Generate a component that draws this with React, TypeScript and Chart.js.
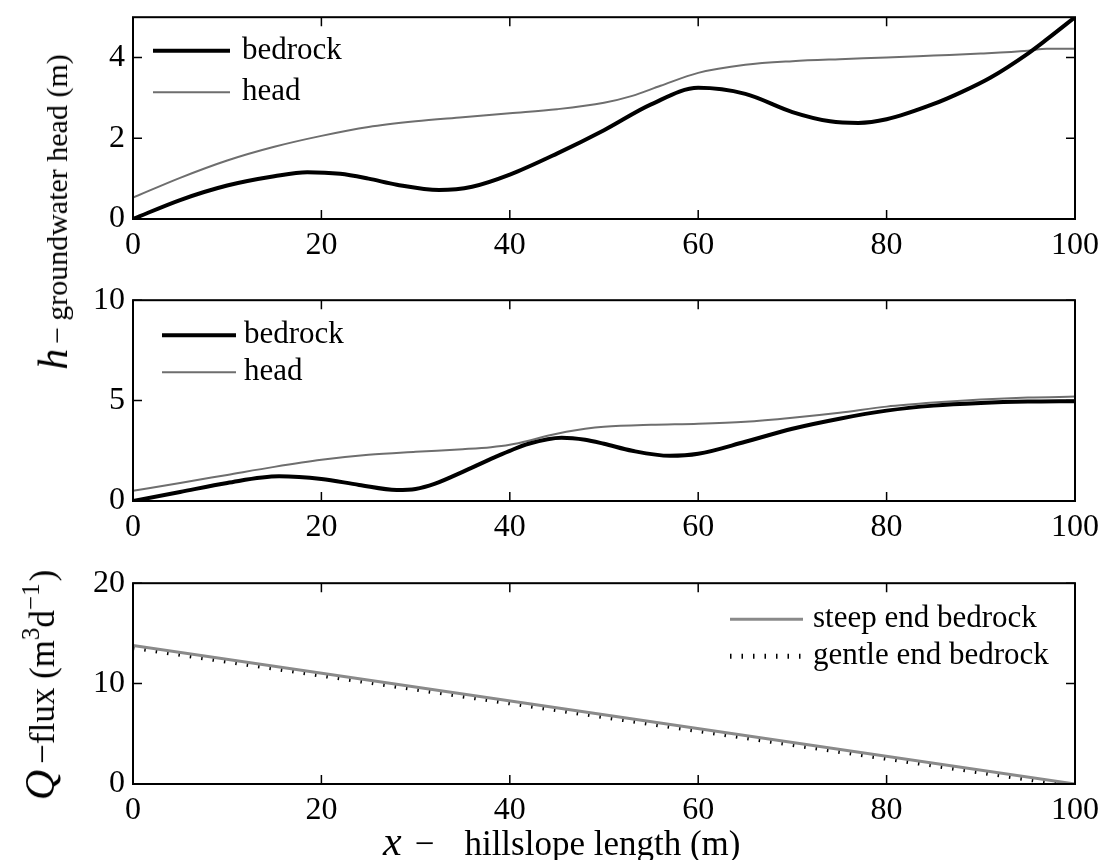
import React, { useEffect, useRef } from 'react';
import { Chart, registerables } from 'chart.js';

Chart.register(...registerables);

const SERIF = '"Liberation Serif", "Times New Roman", Times, serif';

// ---------- data ----------
const X_TICKS = [0, 20, 40, 60, 80, 100];
const Y_TICKS_TOP = [0, 2, 4];
const Y_TICKS_MID = [0, 5, 10];
const Y_TICKS_BOT = [0, 10, 20];

// Panel 1 (steep end bedrock)
const bedrock1X = [0, 5, 10, 15, 18.5, 22, 25, 28, 32.5, 36, 40, 45, 50, 55, 60, 65, 70, 74, 77, 80, 85, 88, 91, 95, 97, 100];
const bedrock1Y = [0, 0.47, 0.83, 1.06, 1.16, 1.12, 1.0, 0.85, 0.72, 0.8, 1.1, 1.62, 2.2, 2.84, 3.25, 3.1, 2.65, 2.42, 2.38, 2.47, 2.85, 3.15, 3.5, 4.1, 4.45, 5.0];
const head1X = [0, 5, 10, 15, 20, 25, 30, 35, 40, 45, 50, 53, 56, 60, 65, 70, 75, 80, 85, 90, 95, 97, 100];
const head1Y = [0.53, 1.02, 1.45, 1.79, 2.06, 2.28, 2.42, 2.52, 2.62, 2.72, 2.88, 3.05, 3.3, 3.62, 3.82, 3.91, 3.96, 4.0, 4.05, 4.1, 4.17, 4.22, 4.22];

// Panel 2 (gentle end bedrock)
const bedrock2X = [0, 5, 10, 15.5, 20, 24, 28, 30, 32, 35, 38, 40, 42, 45.5, 48, 50, 53, 57, 60, 65, 70, 75, 80, 85, 90, 95, 100];
const bedrock2Y = [0, 0.45, 0.9, 1.23, 1.1, 0.8, 0.55, 0.6, 0.85, 1.45, 2.1, 2.5, 2.85, 3.15, 3.05, 2.85, 2.5, 2.25, 2.35, 2.95, 3.6, 4.1, 4.5, 4.75, 4.88, 4.95, 4.97];
const head2X = [0, 5, 10, 15, 20, 25, 30, 35, 38, 40, 42, 44, 46, 48, 50, 55, 60, 65, 70, 75, 80, 85, 90, 95, 100];
const head2Y = [0.51, 0.9, 1.3, 1.7, 2.05, 2.3, 2.45, 2.58, 2.68, 2.8, 3.0, 3.25, 3.45, 3.6, 3.7, 3.8, 3.85, 3.95, 4.15, 4.4, 4.7, 4.9, 5.05, 5.15, 5.2];

// Panel 3 (flux)
const fluxX = [0, 100];
const steepQ = [13.8, 0];
const gentleQ = [13.6, -0.2];

// ---------- helpers ----------
const pts = (xs: number[], ys: number[]) => xs.map((x, i) => ({ x, y: ys[i] }));

const W = 1106;
const PLOT_LEFT = 133;
const PLOT_RIGHT = 1079;
const PAD_TOP = 25;
const X_AXIS_H = 48;
const PAD_BOTTOM = 4;
const TICK_LEN = 9;

const framePlugin = {
  id: 'frame',
  afterDatasetsDraw(chart: any) {
    const { ctx, chartArea: a, scales } = chart;
    ctx.save();
    ctx.strokeStyle = '#000';
    ctx.lineWidth = 2;
    ctx.setLineDash([]);
    ctx.strokeRect(a.left, a.top, a.right - a.left, a.bottom - a.top);
    ctx.beginPath();
    scales.x.ticks.forEach((t: any) => {
      const px = scales.x.getPixelForValue(t.value);
      ctx.moveTo(px, a.bottom);
      ctx.lineTo(px, a.bottom - TICK_LEN);
      ctx.moveTo(px, a.top);
      ctx.lineTo(px, a.top + TICK_LEN);
    });
    scales.y.ticks.forEach((t: any) => {
      const py = scales.y.getPixelForValue(t.value);
      ctx.moveTo(a.left, py);
      ctx.lineTo(a.left + TICK_LEN, py);
      ctx.moveTo(a.right, py);
      ctx.lineTo(a.right - TICK_LEN, py);
    });
    ctx.lineWidth = 1.5;
    ctx.stroke();
    ctx.restore();
  },
};

const legendPlugin = {
  id: 'panelLegend',
  afterDraw(chart: any, _args: any, opts: any) {
    if (!opts || !opts.show) return;
    const { ctx, chartArea: a } = chart;
    ctx.save();
    chart.data.datasets.forEach((ds: any, i: number) => {
      const y = a.top + opts.dy + i * opts.rowH;
      const x0 = a.left + opts.dx;
      ctx.beginPath();
      ctx.setLineDash(ds.borderDash || []);
      ctx.lineCap = 'butt';
      ctx.lineWidth = ds.borderWidth;
      ctx.strokeStyle = ds.borderColor;
      ctx.moveTo(x0, y);
      ctx.lineTo(x0 + opts.len, y);
      ctx.stroke();
      ctx.setLineDash([]);
      ctx.fillStyle = '#000';
      ctx.font = `${opts.size}px ${SERIF}`;
      ctx.textBaseline = 'middle';
      ctx.textAlign = 'left';
      ctx.fillText(ds.label, a.left + opts.textDx, y);
    });
    ctx.restore();
  },
};

type PanelProps = {
  top: number;
  bottom: number;
  datasets: any[];
  yMax: number;
  yTicks: number[];
  legend: any;
};

function Panel({ top, bottom, datasets, yMax, yTicks, legend }: PanelProps) {
  const ref = useRef<HTMLCanvasElement>(null);
  const h = PAD_TOP + (bottom - top) + X_AXIS_H + PAD_BOTTOM;
  useEffect(() => {
    const chart = new Chart(ref.current as HTMLCanvasElement, {
      type: 'line',
      data: { datasets },
      options: {
        responsive: false,
        animation: false,
        devicePixelRatio: 1,
        layout: { padding: { top: PAD_TOP, right: W - PLOT_RIGHT, bottom: PAD_BOTTOM, left: 0 } },
        elements: { point: { radius: 0 } },
        plugins: {
          legend: { display: false },
          tooltip: { enabled: false },
          panelLegend: legend,
        } as any,
        scales: {
          x: {
            type: 'linear',
            min: 0,
            max: 100,
            grid: { display: false, drawTicks: false },
            border: { display: false },
            afterBuildTicks: (s: any) => {
              s.ticks = X_TICKS.map((v) => ({ value: v }));
            },
            afterFit: (s: any) => {
              s.height = X_AXIS_H;
            },
            ticks: {
              font: { family: SERIF, size: 32 },
              color: '#000',
              padding: 7,
              maxRotation: 0,
              autoSkip: false,
            },
          },
          y: {
            type: 'linear',
            min: 0,
            max: yMax,
            grid: { display: false, drawTicks: false },
            border: { display: false },
            afterBuildTicks: (s: any) => {
              s.ticks = yTicks.map((v) => ({ value: v }));
            },
            afterFit: (s: any) => {
              s.width = PLOT_LEFT;
            },
            ticks: {
              font: { family: SERIF, size: 32 },
              color: '#000',
              padding: 8,
              autoSkip: false,
            },
          },
        },
      } as any,
      plugins: [framePlugin, legendPlugin],
    });
    return () => chart.destroy();
  }, []);
  return (
    <canvas
      ref={ref}
      width={W}
      height={h}
      style={{ position: 'absolute', left: 0, top: top - PAD_TOP, width: W, height: h }}
    />
  );
}

const lineDs = (label: string, xs: number[], ys: number[], color: string, width: number, dash?: number[]) => ({
  label,
  data: pts(xs, ys),
  borderColor: color,
  borderWidth: width,
  borderDash: dash || [],
  fill: false,
  pointRadius: 0,
  cubicInterpolationMode: 'monotone',
  borderCapStyle: 'butt',
});

export default function App() {
  const ds1 = [
    lineDs('bedrock', bedrock1X, bedrock1Y, '#000000', 4),
    lineDs('head', head1X, head1Y, '#6e6e6e', 2),
  ];
  const ds2 = [
    lineDs('bedrock', bedrock2X, bedrock2Y, '#000000', 4),
    lineDs('head', head2X, head2Y, '#6e6e6e', 2),
  ];
  const ds3 = [
    lineDs('steep end bedrock', fluxX, steepQ, '#8a8a8a', 3),
    lineDs('gentle end bedrock', fluxX, gentleQ, '#000000', 5, [1.5, 10]),
  ];
  return (
    <div style={{ position: 'absolute', left: 0, top: 0, width: W, height: 860, overflow: 'hidden', background: '#fff' }}>
      <Panel top={15} bottom={219} datasets={ds1} yMax={5} yTicks={Y_TICKS_TOP}
        legend={{ show: true, dx: 20, dy: 33.5, rowH: 41.5, len: 77, textDx: 109, size: 31 }} />
      <Panel top={298} bottom={501} datasets={ds2} yMax={10} yTicks={Y_TICKS_MID}
        legend={{ show: true, dx: 29, dy: 35, rowH: 37, len: 74, textDx: 111, size: 31 }} />
      <Panel top={581} bottom={784} datasets={ds3} yMax={20} yTicks={Y_TICKS_BOT}
        legend={{ show: true, dx: 597, dy: 36, rowH: 37, len: 73, textDx: 680, size: 31 }} />

      {/* y label, upper two panels */}
      <div style={{
        position: 'absolute', left: 55, top: 212, transform: 'translate(-50%, -50%) rotate(-90deg)',
        whiteSpace: 'nowrap', fontFamily: SERIF, fontSize: 30, lineHeight: '44px', color: '#000',
      }}>
        <i style={{ fontSize: 42 }}>h</i>
        <span style={{ marginLeft: 5 }}>−</span>
        <span style={{ marginLeft: 6 }}>groundwater head (m)</span>
      </div>

      {/* y label, flux panel */}
      <div style={{
        position: 'absolute', left: 43, top: 685, transform: 'translate(-50%, -50%) rotate(-90deg)',
        whiteSpace: 'nowrap', fontFamily: SERIF, fontSize: 35, lineHeight: '44px', color: '#000',
      }}>
        <i style={{ fontSize: 42 }}>Q</i>
        <span style={{ marginLeft: 6 }}>−flux (m</span>
        <span style={{ fontSize: 25, position: 'relative', top: -15 }}>3</span>
        <span>d</span>
        <span style={{ fontSize: 25, position: 'relative', top: -15 }}>−1</span>
        <span style={{ marginLeft: 2 }}>)</span>
      </div>

      {/* x label */}
      <div style={{
        position: 'absolute', left: 383, top: 819, whiteSpace: 'nowrap',
        fontFamily: SERIF, fontSize: 35, lineHeight: '44px', color: '#000',
      }}>
        <i style={{ fontSize: 42 }}>x</i>
        <span style={{ marginLeft: 13 }}>−</span>
        <span style={{ marginLeft: 30 }}>hillslope length (m)</span>
      </div>
    </div>
  );
}
